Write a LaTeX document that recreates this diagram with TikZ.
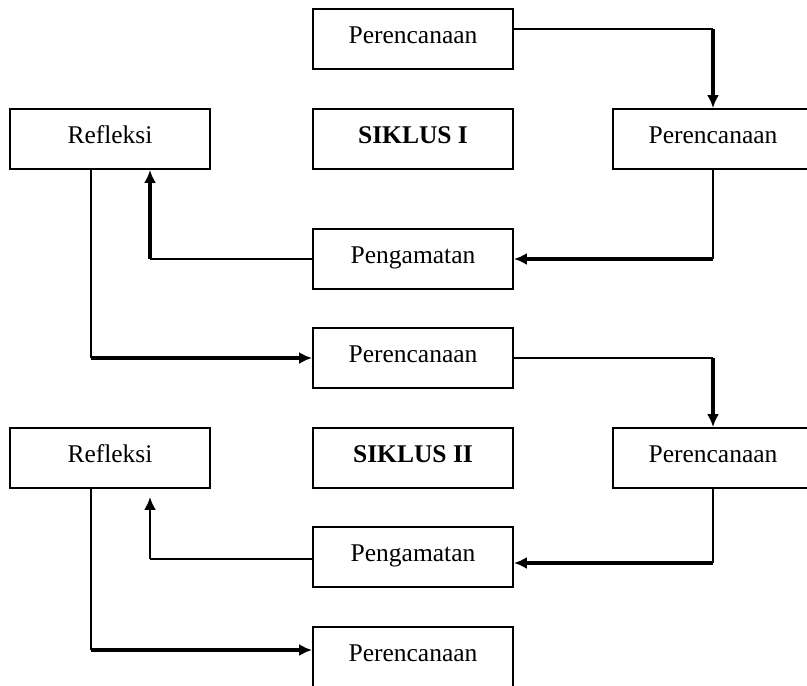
\documentclass[tikz,border=0pt]{standalone}
\usepackage{fontspec}
\setmainfont{Liberation Serif}
\usetikzlibrary{shapes,arrows,arrows.meta}

\begin{document}
\begin{tikzpicture}[x=1pt,y=-1pt]
\tikzstyle{box}=[draw,line width=1.8pt,minimum width=200pt,minimum height=60pt,text height=17pt,text depth=9pt,font=\fontsize{25.5}{30}\selectfont]
\tikzstyle{thin line}=[line width=1.8pt]
\tikzstyle{thick arrow}=[line width=3.5pt,-{Latex[length=13pt,width=12pt]}]
\tikzstyle{mid arrow}=[line width=2.8pt,-{Latex[length=13pt,width=12pt]}]

\useasboundingbox (0,0) rectangle (807,686);
\clip (0,0) rectangle (807,686);

% siklus I
\node[box] (plan1) at (413,39) {Perencanaan};
\node[box] (refl1) at (110,139) {Refleksi};
\node[box] (cyc1) at (413,139) {\textbf{SIKLUS I}};
\node[box] (act1) at (713,139) {Perencanaan};
\node[box] (obs1) at (413,259) {Pengamatan};
\node[box] (plan2) at (413,358) {Perencanaan};

% siklus II
\node[box] (refl2) at (110,458) {Refleksi};
\node[box] (cyc2) at (413,458) {\textbf{SIKLUS II}};
\node[box] (act2) at (713,458) {Perencanaan};
\node[box] (obs2) at (413,557) {Pengamatan};
\node[box] (plan3) at (413,657) {Perencanaan};

% alur siklus I
\coordinate (b1) at (713,29);
\draw[thin line] ([yshift=10pt]plan1.east) -- (b1);
\draw[thick arrow] (b1) -- (act1.north);

\coordinate (b2) at (act1.south |- obs1.east);
\draw[thin line] (act1.south) -- (b2);
\draw[thick arrow] (b2) -- (obs1.east);

\coordinate (b3) at (150,259);
\draw[thin line] (obs1.west) -- (b3);
\draw[thick arrow] (b3) -- ([xshift=40pt]refl1.south);

\coordinate (b4) at (91,358);
\draw[thin line] ([xshift=-19pt]refl1.south) -- (b4);
\draw[thick arrow] (b4) -- (plan2.west);

% alur siklus II
\coordinate (b5) at (713,358);
\draw[thin line] (plan2.east) -- (b5);
\draw[thick arrow] (b5) -- (act2.north);

\coordinate (b6) at (713,563);
\draw[thin line] (act2.south) -- (b6);
\draw[thick arrow] (b6) -- ([yshift=-6pt]obs2.east);

\coordinate (b7) at (150,559);
\draw[thin line] ([yshift=-2pt]obs2.west) -- (b7);
\draw[mid arrow] (b7) -- ([xshift=40pt,yshift=-8pt]refl2.south);

\coordinate (b8) at (91,650);
\draw[thin line] ([xshift=-19pt]refl2.south) -- (b8);
\draw[thick arrow] (b8) -- ([yshift=7pt]plan3.west);

\end{tikzpicture}
\end{document}
